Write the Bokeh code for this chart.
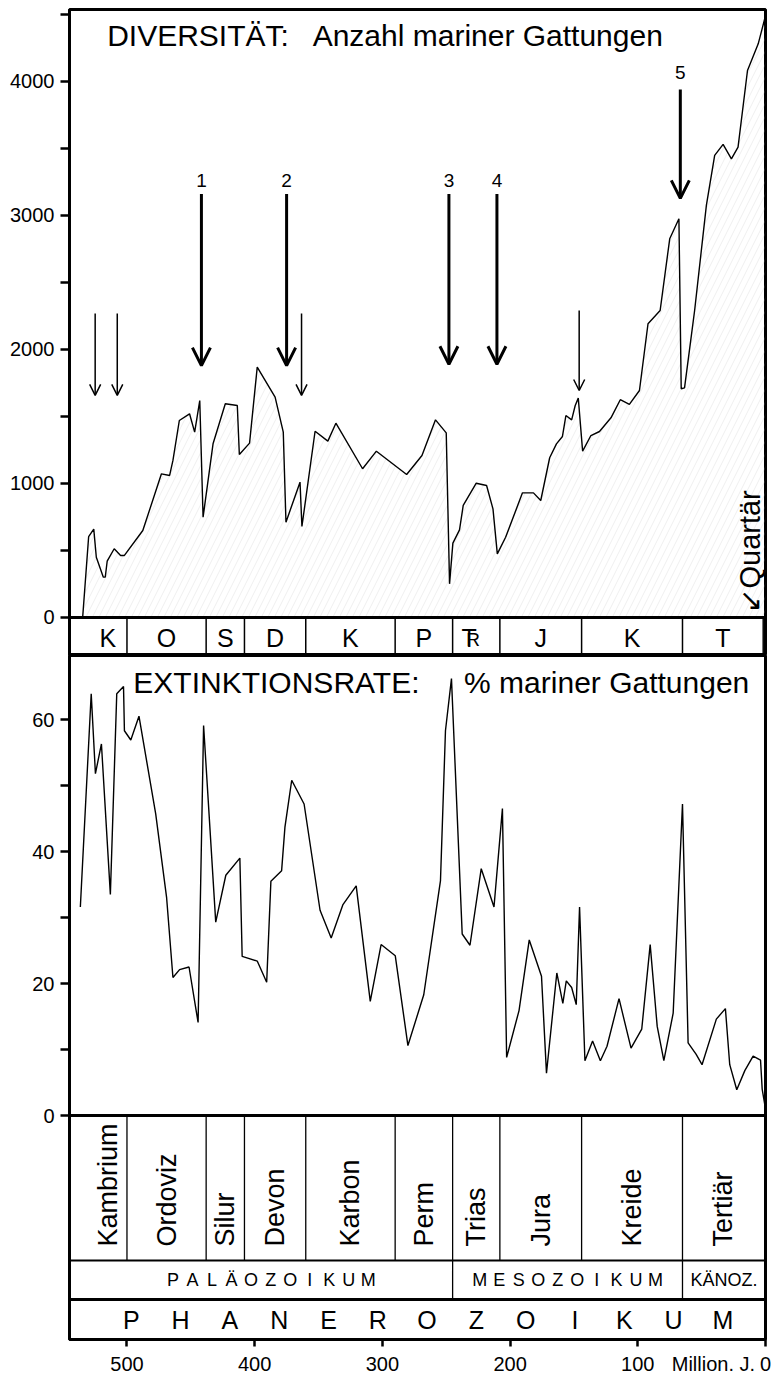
import math
from bokeh.plotting import figure
from bokeh.layouts import column
from bokeh.models import Range1d, FixedTicker, Span, Arrow, OpenHead, ColumnDataSource, LinearAxis
from bokeh.embed import file_html
from bokeh.resources import INLINE

FONT = "Liberation Sans"

# ---------------- data ----------------
# Diversity: number of marine genera (age in Ma)
div_age = [534.7, 530, 526, 524, 518.5, 517, 515.5, 510, 505, 502,
           487.6, 473, 466.6, 464, 459, 451, 447, 443, 440.4, 432.6,
           423, 413.6, 412, 404, 398, 384, 377.6, 375.5, 364.5, 363,
           352.7, 342.7, 336.4, 315.5, 304.7, 281, 269, 258.4, 250, 247.4,
           244.8, 239.6, 236.7, 226.5, 218.4, 213.4, 210, 203.5, 190.3, 181.7,
           176, 169, 163.7, 159, 156.3, 151.8, 149, 146.6, 143.2, 136.7,
           130, 121, 113.7, 106.6, 98.7, 92, 82.5, 75, 67.8, 66,
           63.4, 55.5, 46.3, 39.8, 33.2, 26.7, 21.5, 14.1, 5.7, 0]
div_val = [0, 604, 659, 450, 301, 301, 420, 513, 463, 463,
           649, 1072, 1060, 1172, 1470, 1520, 1383, 1619, 748, 1296,
           1595, 1582, 1216, 1301, 1868, 1644, 1383, 711, 1010, 679,
           1390, 1316, 1450, 1110, 1241, 1067, 1209, 1475, 1378, 251,
           555, 654, 836, 1002, 985, 811, 475, 599, 930, 930,
           873, 1192, 1296, 1351, 1507, 1475, 1582, 1637, 1241, 1358,
           1388, 1490, 1625, 1590, 1694, 2192, 2291, 2826, 2975, 1707,
           1714, 2291, 3075, 3448, 3530, 3423, 3510, 4082, 4281, 4490]

# Extinction rate: % of marine genera
ext_age = [536.5, 528, 524.7, 520, 513, 508, 502.7, 502, 497, 490.6,
           477.5, 469, 464, 458.8, 451.4, 444.3, 440, 430.5, 422.6, 411.6,
           409.8, 398, 390.6, 387.3, 378.9, 376.3, 371, 361.3, 348.8, 340.1,
           331, 320.5, 309.5, 301, 289.9, 280, 267.6, 254.5, 250.6, 245.9,
           237.5, 231.4, 222.6, 212.6, 206, 202.7, 193, 185, 175.4, 171.5,
           163.4, 158.7, 156, 151.8, 148.2, 145.6, 141.4, 135.4, 129.3, 124.1,
           114.7, 105.3, 96.9, 90.3, 84.8, 79.6, 72.3, 65, 60.6, 54.4,
           49.7, 38.5, 31.4, 28, 22.5, 16.2, 9.7, 3.9, 2.6, 0]
ext_val = [31.6, 63.9, 51.8, 56.3, 33.5, 63.9, 65, 58.3, 56.9, 60.5,
           45.7, 33.1, 20.9, 22.1, 22.5, 14.1, 59.1, 29.3, 36.4, 39,
           24.1, 23.4, 20.2, 35.5, 37.1, 43.7, 50.8, 47.2, 31.1, 26.9,
           31.9, 34.8, 17.3, 25.9, 24.2, 10.6, 18.3, 35.6, 58.3, 66.2,
           27.5, 25.8, 37.4, 31.6, 46.5, 8.8, 15.9, 26.6, 21.1, 6.4,
           21.6, 17, 20.4, 19.4, 16.8, 31.6, 8.3, 11.3, 8.3, 10.5,
           17.7, 10.2, 13.1, 25.9, 13.5, 8.3, 15.5, 47.2, 11, 9.3,
           7.7, 14.6, 16.2, 7.7, 3.9, 6.8, 9, 8.4, 4, 1]

# Geological periods (Ma)
period_start = [545, 500, 438, 408, 360, 290, 245, 208, 144, 65, 1.8]
period_end = [500, 438, 408, 360, 290, 245, 208, 144, 65, 1.8, 0]
period_abbr = ["K", "O", "S", "D", "K", "P", "TR", "J", "K", "T", ""]
period_name = ["Kambrium", "Ordoviz", "Silur", "Devon", "Karbon", "Perm",
               "Trias", "Jura", "Kreide", "Tertiär", ""]

era_start = [545, 245, 65]
era_end = [245, 65, 0]
era_name = ["PALÄOZOIKUM", "MESOZOIKUM", "KÄNOZ."]
eon_name = "PHANEROZOIKUM"

# Mass extinctions (big arrows) and minor events (thin arrows)
major_age = [441.7, 375.0, 247.9, 210.3, 66.7]
major_top = [3160, 3160, 3160, 3160, 3940]
major_tip = [1880, 1880, 1890, 1890, 3127]
major_label = ["1", "2", "3", "4", "5"]
major_label_y = [3261, 3261, 3261, 3261, 4067]

minor_age = [524.9, 507.6, 363.3, 145.9]
minor_top = [2269, 2269, 2269, 2291]
minor_tip = [1657, 1657, 1657, 1694]

div_ticks = [0, 1000, 2000, 3000, 4000]
div_minor = [500, 1500, 2500, 3500, 4500]
ext_ticks = [0, 20, 40, 60]
ext_minor = [10, 30, 50]
age_ticks = [500, 400, 300, 200, 100, 0]
unit_pos = 40.8                     # where the unit text "Million. J." sits
unit_text = "Million. J."

# ---------------- layout constants ----------------
X0, X1 = 545, 0
DIV_LO, DIV_HI = -283.6, 4537
EXT_LO, EXT_HI = -33.94, 69.7
STRIP_MID_DIV = -152           # centre of letters in top strip
ROW1 = -21.97                  # bottom of period-name row
ROW2 = -27.88                  # bottom of era row
VIS_START = 530                # visible start for centring labels


def mids():
    return [(min(s, VIS_START) + e) / 2 for s, e in zip(period_start, period_end)]


def style_axis(ax, size="20px"):
    ax.axis_line_width = 3
    ax.axis_line_color = "black"
    ax.major_tick_line_width = 2.5
    ax.minor_tick_line_width = 2.5
    ax.major_tick_in = 0
    ax.minor_tick_in = 0
    ax.major_label_text_font = FONT
    ax.major_label_text_font_size = size
    ax.major_label_text_color = "black"


def txt(p, x, y, t, size, align="center", **kw):
    p.text(x=x, y=y, text=t, text_align=align, text_baseline="middle",
           text_font={"value": FONT}, text_font_size=size, text_color="black", **kw)


def spaced(p, word, center, pitch, y, size):
    n = len(word)
    xs = [center + (n - 1) / 2 * pitch - i * pitch for i in range(n)]
    txt(p, xs, [y] * n, list(word), size)


# ================= Figure A : diversity =================
pA = figure(frame_width=696, frame_height=646,
            x_range=Range1d(X0, X1), y_range=Range1d(DIV_LO, DIV_HI),
            x_axis_type=None, output_backend="svg", toolbar_location=None,
            min_border_left=69, min_border_right=7, min_border_top=9,
            min_border_bottom=0)
pA.grid.visible = False
pA.outline_line_color = "black"
pA.outline_line_width = 3
pA.background_fill_color = "white"
pA.border_fill_color = "white"
ya = pA.yaxis[0]
ya.ticker = FixedTicker(ticks=div_ticks, minor_ticks=div_minor)
ya.major_tick_out = 9
ya.minor_tick_out = 9
ya.major_label_standoff = 6
style_axis(ya)

# hatched area under the curve
pA.varea(x=div_age, y1=[0] * len(div_age), y2=div_val, fill_alpha=0,
         hatch_pattern="/", hatch_color="#b0b0b0", hatch_alpha=0.4,
         hatch_weight=0.5, hatch_scale=13)
pA.line(div_age, div_val, line_color="black", line_width=1.4)

pA.add_layout(Span(location=0, dimension="width", line_color="black", line_width=3))

# top period strip
pA.segment(x0=period_start[1:], y0=[DIV_LO] * 10, x1=period_start[1:], y1=[0] * 10,
           line_color="black", line_width=1.5)
m = mids()
for i, ab in enumerate(period_abbr):
    if ab == "TR":
        txt(pA, [m[i]], [STRIP_MID_DIV], ["T"], "25px", x_offset=-7)
        txt(pA, [m[i]], [STRIP_MID_DIV], ["R"], "19px", align="left",
            x_offset=-10, y_offset=2)
    elif ab:
        txt(pA, [m[i]], [STRIP_MID_DIV], [ab], "25px")

# titles
txt(pA, [515.5], [4343], ["DIVERSITÄT:"], "30px", align="left")
txt(pA, [354.6], [4343], ["Anzahl mariner Gattungen"], "30px", align="left")

# arrows
src_major = ColumnDataSource(dict(x=major_age, y0=major_top, y1=major_tip))
pA.add_layout(Arrow(source=src_major, x_start="x", y_start="y0", x_end="x", y_end="y1",
                    line_width=3, line_color="black",
                    end=OpenHead(size=18, line_width=3, line_color="black")))
src_minor = ColumnDataSource(dict(x=minor_age, y0=minor_top, y1=minor_tip))
pA.add_layout(Arrow(source=src_minor, x_start="x", y_start="y0", x_end="x", y_end="y1",
                    line_width=1.5, line_color="black",
                    end=OpenHead(size=11, line_width=1.5, line_color="black")))
txt(pA, major_age, major_label_y, major_label, "19px")

# Quartär
txt(pA, [12.5], [37], ["\u2199Quartär"], "29px", align="left", angle=math.pi / 2)

# ================= Figure B : extinction =================
pB = figure(frame_width=696, frame_height=684,
            x_range=pA.x_range, y_range=Range1d(EXT_LO, EXT_HI),
            output_backend="svg", toolbar_location=None,
            min_border_left=69, min_border_right=7, min_border_top=0,
            min_border_bottom=30)
pB.grid.visible = False
pB.outline_line_color = "black"
pB.outline_line_width = 3
pB.background_fill_color = "white"
pB.border_fill_color = "white"
yb = pB.yaxis[0]
yb.ticker = FixedTicker(ticks=ext_ticks, minor_ticks=ext_minor)
yb.major_tick_out = 9
yb.minor_tick_out = 9
yb.major_label_standoff = 6
style_axis(yb)

# x axis 1: tick marks only
xb = pB.xaxis[0]
xb.ticker = FixedTicker(ticks=age_ticks, minor_ticks=[])
style_axis(xb, size="1px")
xb.major_tick_out = 7
xb.major_label_standoff = 0
xb.major_label_text_color = None
# x axis 2 (below it): labels only, incl. the unit
xl = LinearAxis(ticker=FixedTicker(ticks=age_ticks + [unit_pos], minor_ticks=[]))
style_axis(xl)
xl.axis_line_color = None
xl.major_tick_line_color = None
xl.minor_tick_line_color = None
xl.major_tick_out = 0
xl.major_label_standoff = 6
xl.major_label_overrides = {unit_pos: unit_text}
pB.add_layout(xl, "below")

pB.line(ext_age, ext_val, line_color="black", line_width=1.4)
pB.add_layout(Span(location=0, dimension="width", line_color="black", line_width=3))
pB.add_layout(Span(location=ROW1, dimension="width", line_color="black", line_width=2))
pB.add_layout(Span(location=ROW2, dimension="width", line_color="black", line_width=3))

# period-name row
pB.segment(x0=period_start[1:10], y0=[ROW1] * 9, x1=period_start[1:10], y1=[0] * 9,
           line_color="black", line_width=1.3)
txt(pB, m[:10], [-19.85] * 10, period_name[:10], "27px", align="left", angle=math.pi / 2)

# era row
pB.segment(x0=era_start[1:], y0=[ROW2] * 2, x1=era_start[1:], y1=[ROW1] * 2,
           line_color="black", line_width=1.3)
spaced(pB, era_name[0], (VIS_START + era_end[0]) / 2, 15.3, (ROW1 + ROW2) / 2, "18px")
spaced(pB, era_name[1], (era_start[1] + era_end[1]) / 2, 15.3, (ROW1 + ROW2) / 2, "18px")
txt(pB, [(era_start[2] + era_end[2]) / 2], [(ROW1 + ROW2) / 2], [era_name[2]], "18px")

# eon row
spaced(pB, eon_name, (VIS_START + 0) / 2, 38.6, (ROW2 + EXT_LO) / 2, "25px")

# title
txt(pB, [495], [65.6], ["EXTINKTIONSRATE:"], "30px", align="left")
txt(pB, [236], [65.6], ["% mariner Gattungen"], "30px", align="left")

layout = column(pA, pB, spacing=0)
open("out.html", "w").write(file_html(layout, INLINE))
